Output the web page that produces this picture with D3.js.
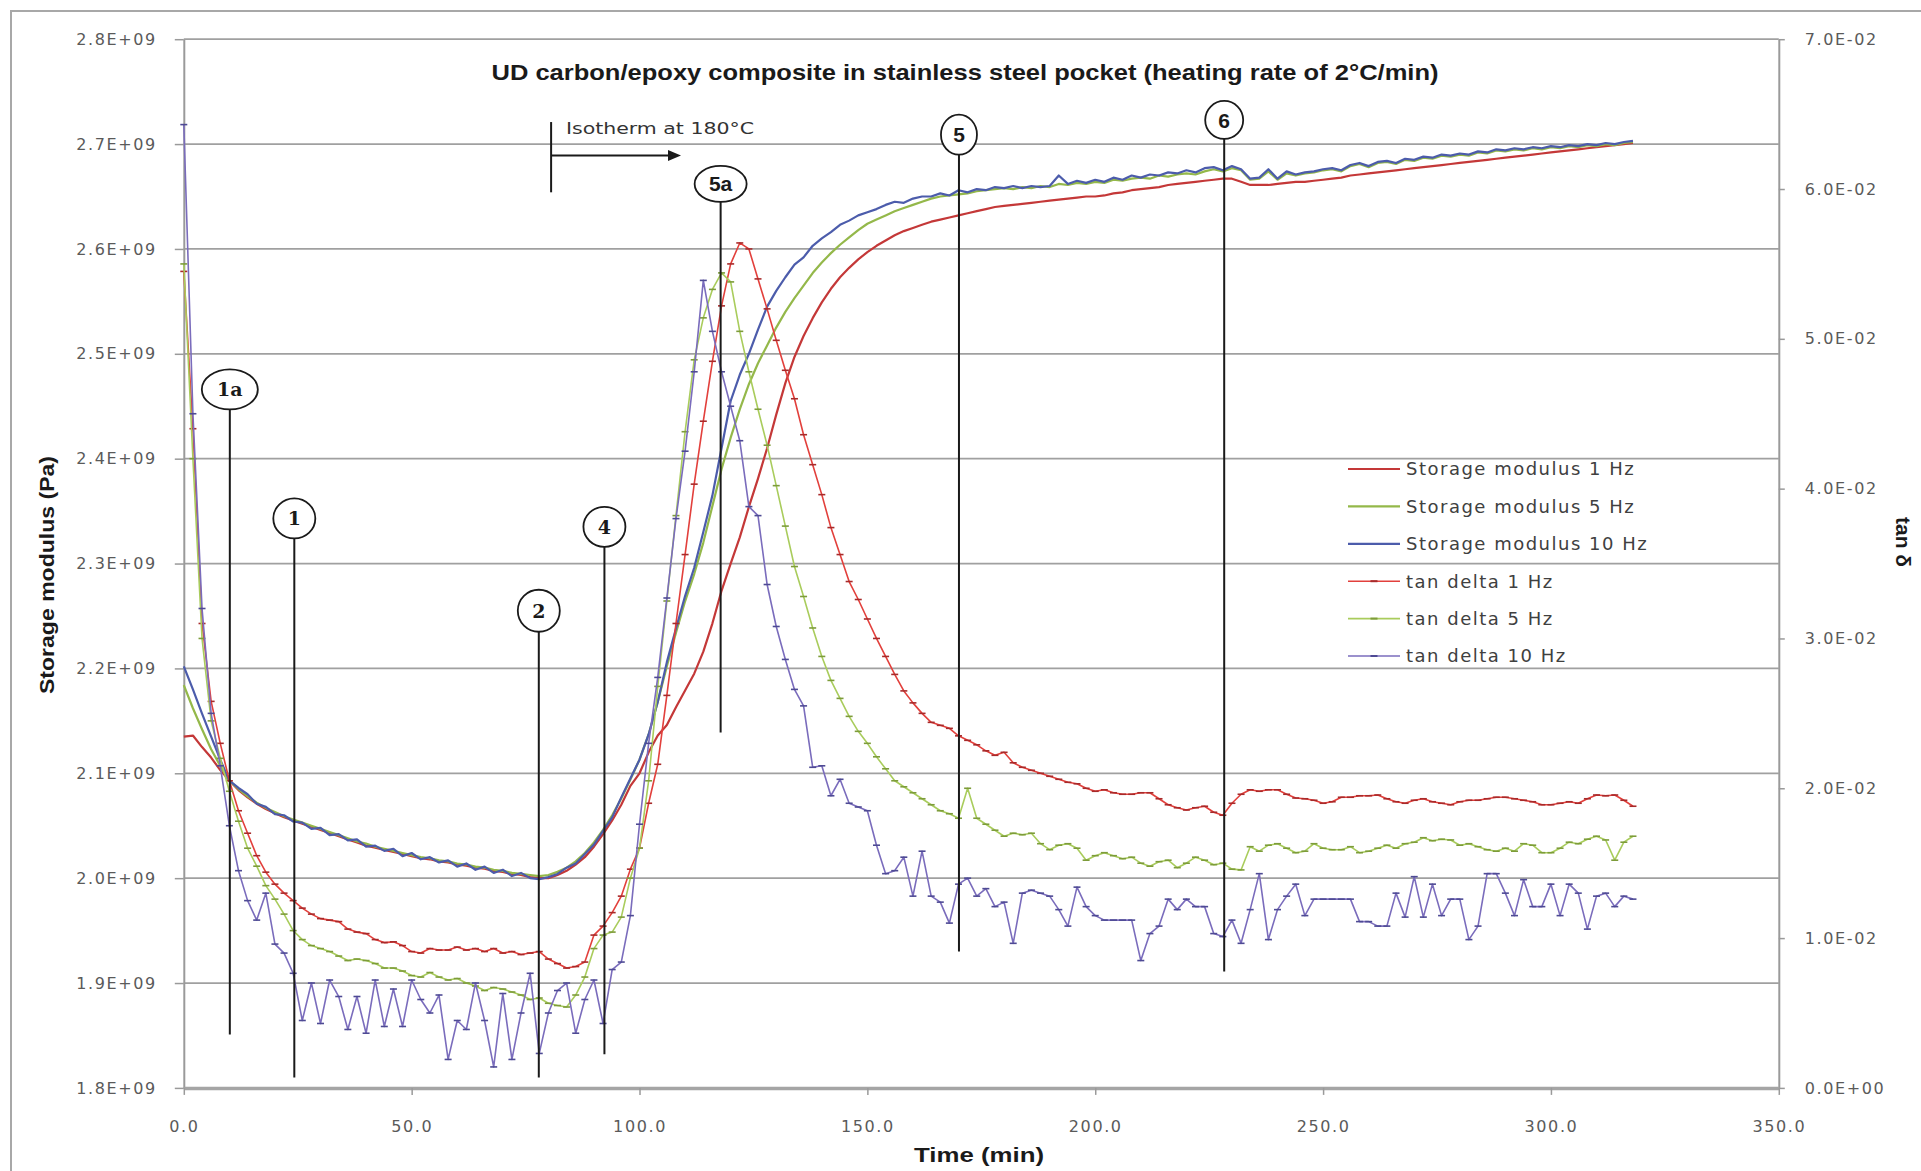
<!DOCTYPE html>
<html><head><meta charset="utf-8">
<script src="https://cdn.jsdelivr.net/npm/d3@7"></script>
<style>body{margin:0;background:#fff} svg{display:block}</style>
</head><body>
<svg id="chart" width="1921" height="1171"></svg>
<script>
// ---------- DATA ----------
const timeMin = [0,2,4,6,8,10,12,14,16,18,20,22,24,26,28,30,32,34,36,38,40,42,44,46,48,50,52,54,56,58,60,62,64,66,68,70,72,74,76,78,80,82,84,86,88,90,92,94,96,98,100,102,104,106,108,110,112,114,116,118,120,122,124,126,128,130,132,134,136,138,140,142,144,146,148,150,152,154,156,158,160,162,164,166,168,170,172,174,176,178,180,182,184,186,188,190,192,194,196,198,200,202,204,206,208,210,212,214,216,218,220,222,224,226,228,230,232,234,236,238,240,242,244,246,248,250,252,254,256,258,260,262,264,266,268,270,272,274,276,278,280,282,284,286,288,290,292,294,296,298,300,302,304,306,308,310,312,314,316,318];

// Storage modulus, in units of 1E+09 Pa
const storage1Hz = [2.135,2.136,2.125,2.115,2.103,2.093,2.084,2.077,2.071,2.066,
2.062,2.058,2.055,2.052,2.049,2.046,2.043,2.040,2.037,2.034,
2.031,2.029,2.027,2.025,2.023,2.021,2.019,2.018,2.016,2.015,
2.013,2.012,2.010,2.009,2.007,2.006,2.004,2.003,2.001,2.000,
2.000,2.003,2.007,2.013,2.020,2.030,2.042,2.055,2.070,2.088,
2.100,2.120,2.136,2.146,2.163,2.179,2.195,2.216,2.243,2.274,
2.300,2.325,2.354,2.381,2.410,2.442,2.472,2.497,2.517,2.534,
2.549,2.562,2.573,2.582,2.590,2.597,2.603,2.608,2.613,2.617,
2.620,2.623,2.626,2.628,2.630,2.632,2.634,2.636,2.638,2.640,
2.641,2.642,2.643,2.644,2.645,2.646,2.647,2.648,2.649,2.650,
2.650,2.651,2.653,2.654,2.656,2.657,2.658,2.659,2.661,2.662,
2.663,2.664,2.665,2.666,2.667,2.667,2.664,2.661,2.661,2.661,
2.662,2.663,2.664,2.664,2.665,2.666,2.667,2.668,2.670,2.671,
2.672,2.673,2.674,2.675,2.676,2.677,2.678,2.679,2.680,2.681,
2.682,2.683,2.684,2.685,2.686,2.687,2.688,2.689,2.690,2.691,
2.692,2.693,2.694,2.695,2.696,2.697,2.698,2.699,2.700,2.701];

const storage5Hz = [2.184,2.162,2.142,2.123,2.107,2.093,2.085,2.078,2.072,2.067,
2.063,2.059,2.056,2.053,2.050,2.047,2.044,2.041,2.038,2.035,
2.033,2.030,2.028,2.026,2.024,2.022,2.020,2.019,2.017,2.016,
2.014,2.013,2.011,2.010,2.008,2.007,2.005,2.004,2.003,2.002,
2.003,2.006,2.010,2.016,2.024,2.034,2.046,2.060,2.076,2.094,
2.113,2.137,2.168,2.202,2.234,2.264,2.290,2.320,2.355,2.390,
2.420,2.447,2.471,2.491,2.508,2.525,2.540,2.553,2.565,2.577,
2.587,2.596,2.604,2.611,2.618,2.624,2.628,2.632,2.636,2.639,
2.642,2.645,2.648,2.650,2.651,2.652,2.653,2.655,2.656,2.657,
2.658,2.657,2.659,2.658,2.660,2.659,2.662,2.661,2.663,2.662,
2.664,2.663,2.666,2.665,2.667,2.668,2.667,2.670,2.669,2.671,
2.672,2.671,2.674,2.676,2.674,2.677,2.675,2.666,2.667,2.674,
2.666,2.672,2.670,2.672,2.673,2.675,2.676,2.674,2.679,2.681,
2.678,2.682,2.683,2.681,2.685,2.684,2.687,2.686,2.689,2.688,
2.690,2.689,2.692,2.691,2.694,2.693,2.695,2.694,2.696,2.695,
2.697,2.696,2.698,2.697,2.699,2.698,2.700,2.699,2.701,2.702];

const storage10Hz = [2.202,2.180,2.157,2.135,2.113,2.093,2.086,2.080,2.071,2.068,
2.061,2.060,2.054,2.053,2.047,2.048,2.041,2.042,2.036,2.037,
2.030,2.031,2.026,2.028,2.021,2.024,2.018,2.020,2.015,2.017,
2.011,2.014,2.008,2.011,2.005,2.008,2.002,2.005,2.000,1.999,
2.001,2.004,2.010,2.014,2.023,2.032,2.045,2.058,2.077,2.095,
2.113,2.137,2.168,2.206,2.238,2.269,2.296,2.330,2.365,2.410,
2.455,2.480,2.500,2.523,2.545,2.560,2.573,2.585,2.592,2.603,
2.610,2.616,2.623,2.627,2.632,2.635,2.638,2.642,2.645,2.644,
2.648,2.650,2.650,2.653,2.651,2.656,2.654,2.657,2.656,2.659,
2.658,2.660,2.658,2.660,2.659,2.660,2.670,2.662,2.665,2.663,
2.666,2.664,2.668,2.666,2.670,2.668,2.671,2.670,2.673,2.672,
2.675,2.673,2.677,2.678,2.675,2.679,2.676,2.667,2.668,2.676,
2.667,2.674,2.671,2.673,2.674,2.676,2.677,2.675,2.680,2.682,
2.679,2.683,2.684,2.682,2.686,2.685,2.688,2.687,2.690,2.689,
2.691,2.690,2.693,2.692,2.695,2.694,2.696,2.695,2.697,2.696,
2.698,2.697,2.699,2.698,2.700,2.699,2.701,2.700,2.702,2.703];

// tan delta, in units of 1E-02
const tanDelta1Hz = [5.45,4.40,3.10,2.58,2.30,2.05,1.85,1.70,1.55,1.44,
1.36,1.30,1.25,1.20,1.16,1.13,1.12,1.11,1.06,1.04,
1.03,0.99,0.97,0.975,0.95,0.91,0.90,0.93,0.92,0.92,
0.94,0.92,0.93,0.91,0.93,0.90,0.91,0.89,0.90,0.91,
0.86,0.83,0.80,0.81,0.84,1.02,1.08,1.17,1.28,1.46,
1.60,1.90,2.16,2.62,3.10,3.56,4.03,4.45,4.85,5.22,
5.50,5.64,5.60,5.40,5.20,4.99,4.79,4.60,4.36,4.16,
3.96,3.74,3.56,3.38,3.26,3.13,3.00,2.88,2.76,2.65,
2.57,2.50,2.44,2.42,2.40,2.35,2.32,2.29,2.25,2.22,
2.24,2.17,2.14,2.12,2.10,2.08,2.06,2.04,2.03,2.00,
1.98,1.99,1.97,1.96,1.96,1.97,1.97,1.93,1.89,1.87,
1.855,1.87,1.88,1.84,1.82,1.90,1.96,1.99,1.98,1.99,
1.99,1.96,1.935,1.93,1.92,1.90,1.91,1.94,1.94,1.95,
1.95,1.955,1.93,1.91,1.90,1.92,1.93,1.91,1.90,1.89,
1.91,1.92,1.92,1.93,1.94,1.94,1.93,1.92,1.91,1.89,
1.89,1.90,1.91,1.90,1.93,1.955,1.95,1.955,1.92,1.88];

const tanDelta5Hz = [5.50,4.20,3.00,2.45,2.20,1.98,1.78,1.60,1.48,1.35,
1.26,1.16,1.05,0.99,0.95,0.93,0.91,0.88,0.85,0.86,
0.85,0.83,0.80,0.80,0.78,0.75,0.74,0.77,0.74,0.72,
0.73,0.70,0.68,0.65,0.67,0.66,0.64,0.62,0.59,0.60,
0.565,0.55,0.54,0.62,0.74,0.93,1.02,1.04,1.14,1.40,
1.60,2.05,2.68,3.25,3.82,4.38,4.86,5.14,5.33,5.44,
5.38,5.05,4.78,4.53,4.29,4.02,3.75,3.48,3.28,3.07,
2.88,2.72,2.60,2.48,2.38,2.30,2.21,2.13,2.05,2.01,
1.97,1.93,1.89,1.85,1.83,1.80,2.00,1.80,1.76,1.72,
1.68,1.70,1.69,1.70,1.63,1.59,1.62,1.63,1.60,1.52,
1.55,1.57,1.55,1.53,1.54,1.50,1.48,1.51,1.52,1.47,
1.50,1.54,1.52,1.49,1.50,1.46,1.455,1.61,1.58,1.62,
1.63,1.60,1.57,1.58,1.63,1.60,1.59,1.59,1.61,1.57,
1.58,1.60,1.62,1.60,1.63,1.64,1.67,1.65,1.66,1.655,
1.62,1.63,1.61,1.59,1.58,1.60,1.58,1.63,1.62,1.57,
1.57,1.60,1.64,1.63,1.66,1.68,1.655,1.52,1.64,1.68];

const tanDelta10Hz = [6.43,4.50,3.20,2.50,2.15,1.75,1.45,1.25,1.12,1.30,
0.96,0.90,0.765,0.45,0.70,0.43,0.72,0.61,0.39,0.61,
0.365,0.72,0.41,0.66,0.41,0.72,0.59,0.50,0.62,0.19,
0.45,0.39,0.70,0.45,0.14,0.63,0.19,0.50,0.765,0.23,
0.50,0.65,0.70,0.365,0.59,0.72,0.43,0.79,0.84,1.15,
1.76,2.30,2.74,3.27,3.80,4.25,4.78,5.39,5.05,4.78,
4.55,4.32,3.88,3.82,3.36,3.08,2.86,2.66,2.55,2.14,
2.15,1.95,2.06,1.90,1.875,1.85,1.62,1.43,1.45,1.54,
1.28,1.58,1.28,1.24,1.10,1.36,1.40,1.28,1.33,1.21,
1.24,0.965,1.30,1.32,1.30,1.28,1.19,1.08,1.34,1.21,
1.15,1.12,1.12,1.12,1.12,0.85,1.03,1.08,1.26,1.19,
1.26,1.21,1.21,1.03,1.01,1.12,0.965,1.19,1.43,0.99,
1.19,1.28,1.36,1.15,1.26,1.26,1.26,1.26,1.26,1.11,
1.11,1.08,1.08,1.30,1.14,1.41,1.14,1.36,1.15,1.26,
1.26,0.99,1.08,1.43,1.43,1.30,1.15,1.39,1.21,1.21,
1.36,1.15,1.36,1.30,1.06,1.28,1.30,1.21,1.28,1.26];

const leftTicks  = [1.8,1.9,2.0,2.1,2.2,2.3,2.4,2.5,2.6,2.7,2.8];
const rightTicks = [0,1,2,3,4,5,6,7];
const xTicks     = [0,50,100,150,200,250,300,350];

const seriesNames = ["Storage modulus 1 Hz","Storage modulus 5 Hz","Storage modulus 10 Hz",
                     "tan delta 1 Hz","tan delta 5 Hz","tan delta 10 Hz"];

// annotations: label, time of vertical line, circle centre (storage units), line bottom (storage units)
const annotLabels = ["1a","1","2","4","5a","5","6"];
const annotTime   = [10.1, 24.25, 77.9, 92.3, 117.8, 170.1, 228.3];
const annotCentre = [2.466, 2.343, 2.255, 2.335, 2.662, 2.709, 2.723];
const annotBottom = [1.851, 1.810, 1.810, 1.832, 2.139, 1.930, 1.911];
const isoTime = [80.6, 109.1];          // isotherm marker start / arrow end
const isoLevels = [2.721, 2.654, 2.689]; // bar top, bar bottom, arrow level

// ---------- DRAW ----------
const svg = d3.select("#chart");
const x  = d3.scaleLinear().domain([0,350]).range([183.8,1778.8]);
const yL = d3.scaleLinear().domain([1.8,2.8]).range([1087.9,39.2]);
const yR = d3.scaleLinear().domain([0,7]).range([1087.9,39.2]);

svg.append("rect").attr("x",11).attr("y",11).attr("width",1960).attr("height",1200)
  .attr("fill","#fff").attr("stroke","#a8a8a8").attr("stroke-width",2);

// gridlines
svg.append("g").selectAll("line").data(leftTicks).join("line")
  .attr("x1",x(0)).attr("x2",x(350)).attr("y1",d=>yL(d)).attr("y2",d=>yL(d))
  .attr("stroke","#a0a0a0").attr("stroke-width",1.8);

const tickFont = "'DejaVu Sans', Verdana, sans-serif";
function styleAxis(g){
  g.select(".domain").attr("stroke","#9a9a9a").attr("stroke-width",2);
  g.selectAll(".tick line").attr("stroke","#9a9a9a").attr("stroke-width",1.5);
  g.selectAll(".tick text").attr("fill","#5a5a5a").style("font-family",tickFont)
   .style("font-size","16px").style("letter-spacing","1.6px");
}
svg.append("g").attr("transform",`translate(${x(0)},0)`)
  .call(d3.axisLeft(yL).tickValues(leftTicks).tickSize(9).tickSizeOuter(0).tickPadding(18)
    .tickFormat(d=>d.toFixed(1)+"E+09")).call(styleAxis);
svg.append("g").attr("transform",`translate(${x(350)},0)`)
  .call(d3.axisRight(yR).tickValues(rightTicks).tickSize(6).tickSizeOuter(0).tickPadding(20)
    .tickFormat(d=>d===0?"0.0E+00":d.toFixed(1)+"E-02")).call(styleAxis);
const xg = svg.append("g").attr("transform",`translate(0,${yL(1.8)})`)
  .call(d3.axisBottom(x).tickValues(xTicks).tickSize(7).tickSizeOuter(0).tickPadding(26)
    .tickFormat(d=>d.toFixed(1))).call(styleAxis);
xg.select(".domain").attr("stroke-width",3.5).attr("stroke","#a5a5a5");

// series
const colors = {
  s1:"#c43838", s5:"#94b84a", s10:"#4c5cab",
  t1:"#e2403c", t5:"#a9cc5c", t10:"#7a6cbc",
  m1:"#a82a2a", m5:"#7d9c3a", m10:"#4e4a94"
};
function lineOf(vals, yScale){
  return d3.line().x((d,i)=>x(timeMin[i])).y(d=>yScale(d))(vals);
}
const storageSeries = [[storage1Hz,colors.s1],[storage5Hz,colors.s5],[storage10Hz,colors.s10]];
const tanSeries = [[tanDelta1Hz,colors.t1,colors.m1],[tanDelta5Hz,colors.t5,colors.m5],[tanDelta10Hz,colors.t10,colors.m10]];

storageSeries.forEach(([v,c])=>{
  svg.append("path").attr("d",lineOf(v,yL)).attr("fill","none").attr("stroke",c)
    .attr("stroke-width",2.2).attr("stroke-linejoin","round");
});
tanSeries.forEach(([v,c,m])=>{
  svg.append("path").attr("d",lineOf(v,yR)).attr("fill","none").attr("stroke",c)
    .attr("stroke-width",1.6).attr("stroke-linejoin","round");
  svg.append("g").selectAll("line").data(v).join("line")
    .attr("x1",(d,i)=>x(timeMin[i])-3.5).attr("x2",(d,i)=>x(timeMin[i])+3.5)
    .attr("y1",d=>yR(d)).attr("y2",d=>yR(d))
    .attr("stroke",m).attr("stroke-width",1.6);
});

// annotations
const ann = svg.append("g");
const rx = [28,21,21,21,26,18,19], ry = [20,20,21,20,18,20,19];
annotLabels.forEach((lab,i)=>{
  const cx = x(annotTime[i]), cy = yL(annotCentre[i]);
  ann.append("line").attr("x1",cx).attr("x2",cx).attr("y1",cy+ry[i]).attr("y2",yL(annotBottom[i]))
    .attr("stroke","#1a1a1a").attr("stroke-width",2);
  ann.append("ellipse").attr("cx",cx).attr("cy",cy).attr("rx",rx[i]).attr("ry",ry[i])
    .attr("fill","#fff").attr("stroke","#1a1a1a").attr("stroke-width",1.8);
  const serif = ["1a","1","2","4"].includes(lab);
  ann.append("text").attr("x",cx).attr("y",cy).attr("dy","0.36em").attr("text-anchor","middle")
    .style("font-family", serif ? "'DejaVu Serif', 'Liberation Serif', serif" : "'Liberation Sans Narrow','Liberation Sans',sans-serif")
    .style("font-weight","bold").style("font-size", serif ? "19px" : "21px").attr("fill","#1a1a1a").text(lab);
});
// isotherm marker
ann.append("line").attr("x1",x(isoTime[0])).attr("x2",x(isoTime[0]))
  .attr("y1",yL(isoLevels[0])).attr("y2",yL(isoLevels[1])).attr("stroke","#1a1a1a").attr("stroke-width",2);
ann.append("line").attr("x1",x(isoTime[0])).attr("x2",x(isoTime[1])-10)
  .attr("y1",yL(isoLevels[2])).attr("y2",yL(isoLevels[2])).attr("stroke","#1a1a1a").attr("stroke-width",2);
ann.append("path").attr("d",`M${x(isoTime[1])},${yL(isoLevels[2])} l-13,-5.5 l0,11 z`).attr("fill","#1a1a1a");
ann.append("text").attr("x",566).attr("y",yL(isoLevels[0])+6).attr("dy","0.35em")
  .attr("textLength",188).attr("lengthAdjust","spacingAndGlyphs")
  .style("font-family","'DejaVu Sans',sans-serif").style("font-size","16px").attr("fill","#333")
  .text("Isotherm at 180°C");

// legend
const leg = svg.append("g");
const legColors = [colors.s1,colors.s5,colors.s10,colors.t1,colors.t5,colors.t10];
const legMark = [null,null,null,colors.m1,colors.m5,colors.m10];
seriesNames.forEach((name,i)=>{
  const yy = 469 + i*37.4;
  leg.append("line").attr("x1",1348).attr("x2",1400).attr("y1",yy).attr("y2",yy)
    .attr("stroke",legColors[i]).attr("stroke-width", i<3 ? 2.2 : 1.6);
  if(legMark[i]) leg.append("line").attr("x1",1370.5).attr("x2",1377.5).attr("y1",yy).attr("y2",yy)
    .attr("stroke",legMark[i]).attr("stroke-width",2);
  leg.append("text").attr("x",1406).attr("y",yy).attr("dy","0.35em")
    .style("font-family",tickFont).style("font-size","18px").style("letter-spacing","1.5px")
    .attr("fill","#404040").text(name);
});

// titles
svg.append("text").attr("x",965).attr("y",72).attr("dy","0.35em").attr("text-anchor","middle")
  .attr("textLength",947).attr("lengthAdjust","spacingAndGlyphs")
  .style("font-family","'Liberation Sans Narrow','Liberation Sans',Arial,sans-serif")
  .style("font-weight","bold").style("font-size","22px").attr("fill","#1a1a1a")
  .text("UD carbon/epoxy composite in stainless steel pocket (heating rate of 2°C/min)");
svg.append("text").attr("transform","translate(47,575) rotate(-90)").attr("dy","0.35em").attr("text-anchor","middle")
  .attr("textLength",238).attr("lengthAdjust","spacingAndGlyphs")
  .style("font-family","'Liberation Sans',Arial,sans-serif").style("font-weight","bold").style("font-size","21px")
  .attr("fill","#1a1a1a").text("Storage modulus (Pa)");
svg.append("text").attr("transform","translate(1903,542) rotate(90)").attr("dy","0.35em").attr("text-anchor","middle")
  .style("font-family","'Liberation Sans',Arial,sans-serif").style("font-weight","bold").style("font-size","21px")
  .attr("fill","#1a1a1a").text("tan δ");
svg.append("text").attr("x",979).attr("y",1155).attr("dy","0.35em").attr("text-anchor","middle")
  .attr("textLength",130).attr("lengthAdjust","spacingAndGlyphs")
  .style("font-family","'Liberation Sans Narrow','Liberation Sans',Arial,sans-serif").style("font-weight","bold").style("font-size","21px")
  .attr("fill","#1a1a1a").text("Time (min)");
</script>
</body></html>
